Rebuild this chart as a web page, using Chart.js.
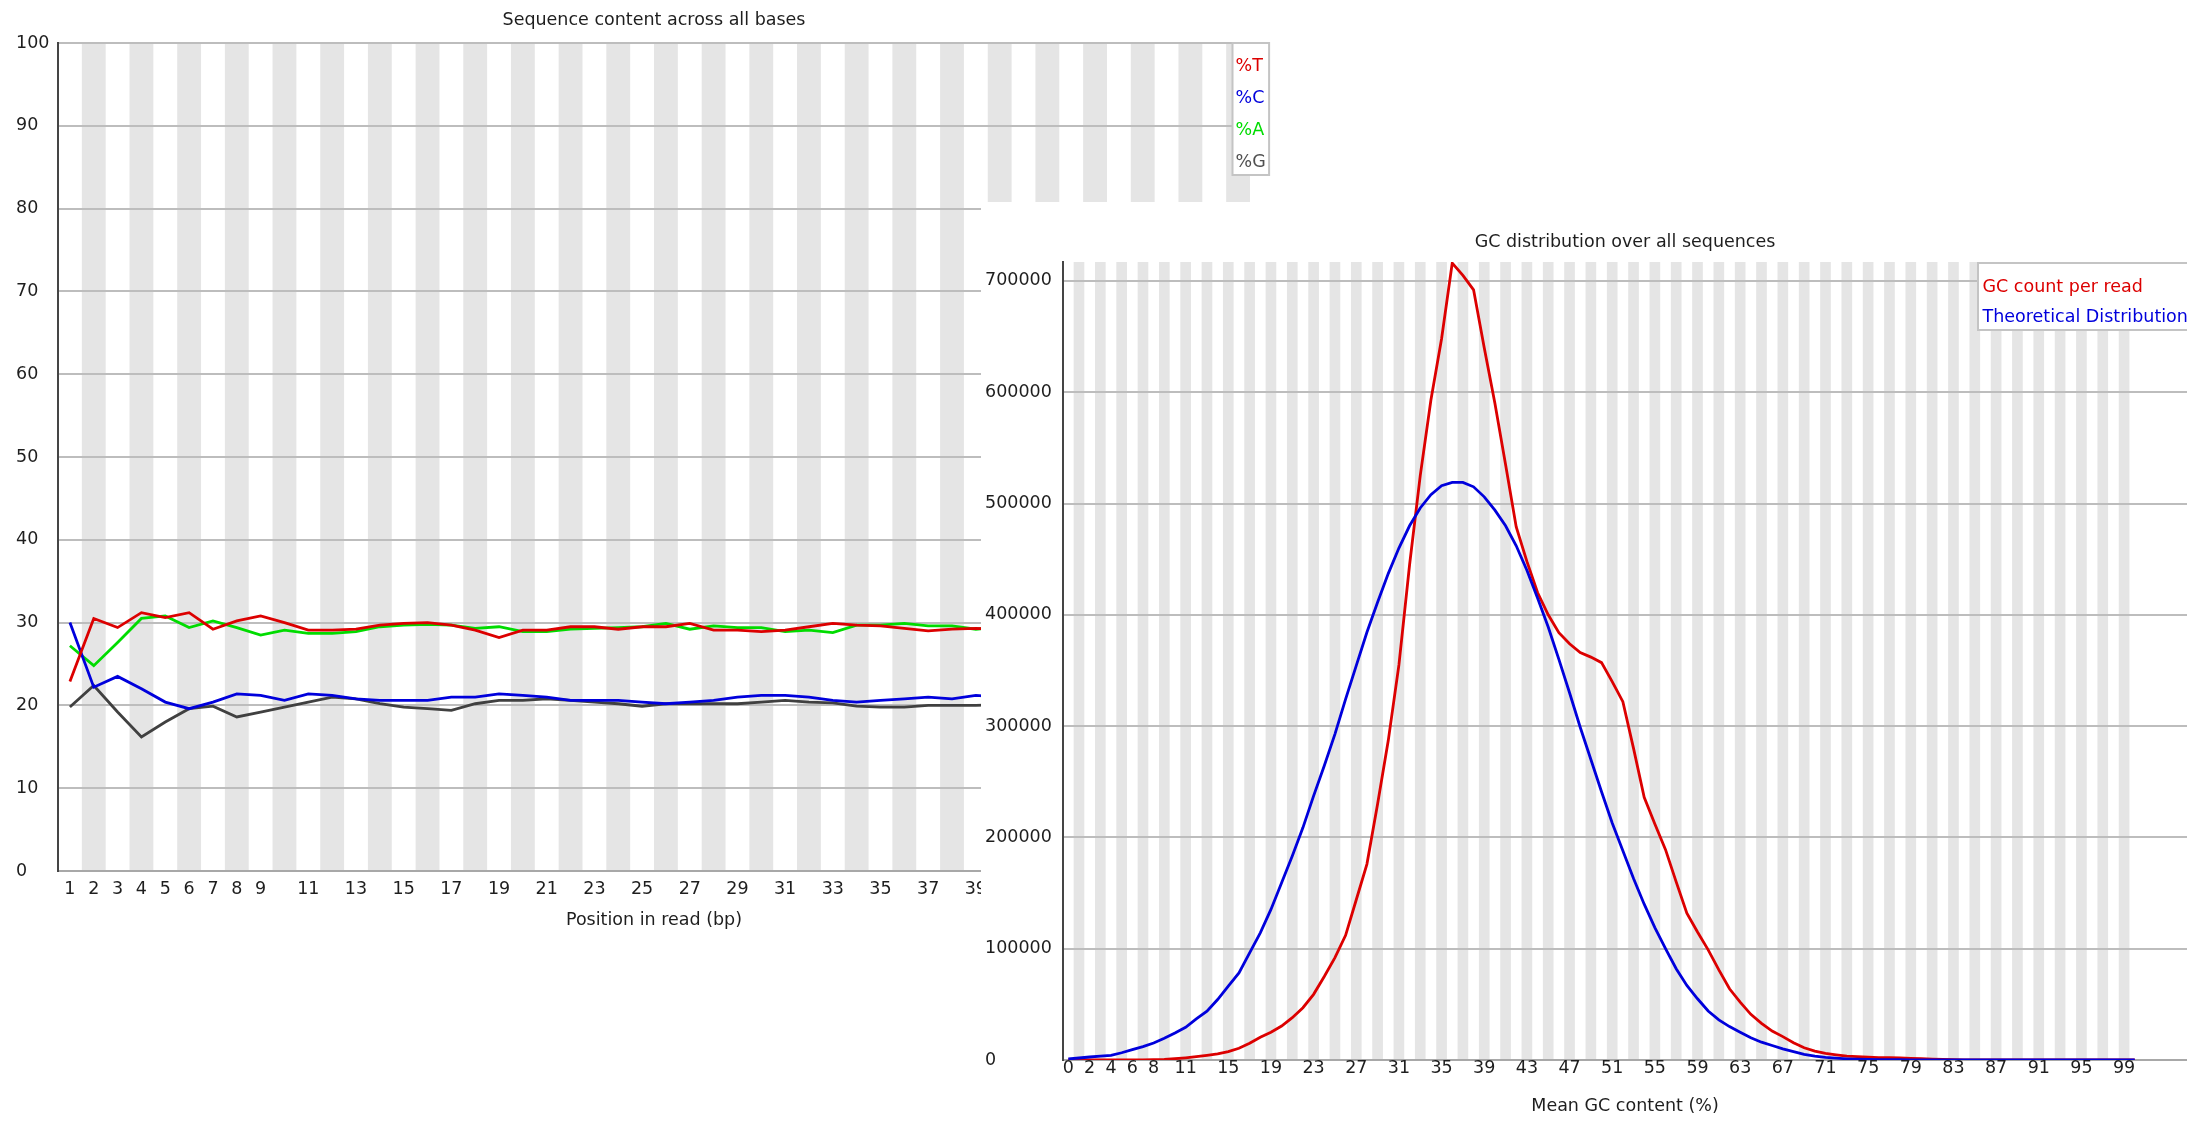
<!DOCTYPE html>
<html><head><meta charset="utf-8">
<script src="https://cdn.jsdelivr.net/npm/chart.js@4.4.1/dist/chart.umd.min.js"></script>
<style>
html,body{margin:0;padding:0;background:#fff;overflow:hidden;width:2187px;height:1121px;}
#c1{position:absolute;left:0;top:0;}
#c2{position:absolute;left:981px;top:202px;}
</style></head><body>
<canvas id="c1" width="1280" height="941"></canvas>
<canvas id="c2" width="1206" height="919"></canvas>
<script>
// ---------- Sequence content across all bases ----------
const seqTitle = 'Sequence content across all bases';
const seqXTitle = 'Position in read (bp)';
const positions = [1,2,3,4,5,6,7,8,9,10,11,12,13,14,15,16,17,18,19,20,21,22,23,24,25,26,27,28,29,30,31,32,33,34,35,36,37,38,39,40,41,42,43,44,45,46,47,48,49,50];
const seriesNames = ['%T','%C','%A','%G'];
const pctT = [22.9,30.5,29.4,31.2,30.6,31.2,29.2,30.2,30.8,30.0,29.1,29.1,29.2,29.7,29.9,30.0,29.7,29.1,28.2,29.1,29.1,29.5,29.5,29.2,29.5,29.5,29.9,29.1,29.1,28.9,29.1,29.5,29.9,29.7,29.6,29.3,29.0,29.2,29.3,29.2,29.4,29.1,29.3,29.5,29.2,29.0,29.3,29.4,29.1,29.2];
const pctC = [30.0,22.2,23.5,22.0,20.4,19.6,20.4,21.4,21.2,20.6,21.4,21.2,20.8,20.6,20.6,20.6,21.0,21.0,21.4,21.2,21.0,20.6,20.6,20.6,20.4,20.2,20.4,20.6,21.0,21.2,21.2,21.0,20.6,20.4,20.6,20.8,21.0,20.8,21.2,21.0,20.8,20.9,21.1,20.8,20.7,20.9,21.0,20.8,20.9,21.0];
const pctA = [27.2,24.8,27.6,30.5,30.8,29.4,30.2,29.4,28.5,29.1,28.7,28.7,28.9,29.5,29.7,29.8,29.7,29.3,29.5,28.9,28.9,29.2,29.3,29.4,29.5,29.9,29.2,29.6,29.4,29.4,28.9,29.1,28.8,29.7,29.7,29.9,29.6,29.6,29.2,29.5,29.3,29.6,29.4,29.2,29.5,29.6,29.3,29.4,29.5,29.3];
const pctG = [19.8,22.4,19.2,16.2,18.0,19.6,19.9,18.6,19.2,19.8,20.4,21.0,20.8,20.2,19.8,19.6,19.4,20.2,20.6,20.6,20.8,20.6,20.4,20.2,19.9,20.2,20.2,20.2,20.2,20.4,20.6,20.4,20.3,19.9,19.8,19.8,20.0,20.0,20.0,20.1,20.3,20.0,20.2,20.4,20.1,20.0,20.2,20.3,20.1,20.0];
const seqYTicks = [0,10,20,30,40,50,60,70,80,90,100];

// ---------- GC distribution over all sequences ----------
const gcTitle = 'GC distribution over all sequences';
const gcXTitle = 'Mean GC content (%)';
const gcNames = ['GC count per read','Theoretical Distribution'];
const gcBins = [0,1,2,3,4,5,6,7,8,9,10,11,12,13,14,15,16,17,18,19,20,21,22,23,24,25,26,27,28,29,30,31,32,33,34,35,36,37,38,39,40,41,42,43,44,45,46,47,48,49,50,51,52,53,54,55,56,57,58,59,60,61,62,63,64,65,66,67,68,69,70,71,72,73,74,75,76,77,78,79,80,81,82,83,84,85,86,87,88,89,90,91,92,93,94,95,96,97,98,99,100];
const gcCount = [300,200,150,100,100,100,100,150,300,600,1200,2000,3000,4200,5500,7500,10500,15000,20500,25000,30500,38000,47000,59000,75000,92000,112000,144000,176000,230000,287000,355000,445000,525000,593000,648000,716000,705000,692000,640000,590000,535000,479000,448000,420000,400000,384000,374000,366000,362000,357000,340000,322000,280000,236000,212000,189000,160000,132000,115000,99000,81000,64000,52000,41000,33000,26000,21000,15500,11000,8000,6000,4700,3500,3000,2600,2200,2000,1800,1500,1200,800,500,300,200,100,100,0,0,0,0,0,0,0,0,0,0,0,0,0,0];
const gcTheory = [900,1800,2700,3400,4200,6500,9300,12000,15300,19500,24300,29400,36900,43800,54300,66300,78300,96300,114300,135300,159300,183300,208800,237300,264300,292800,324300,354300,384300,411300,437000,460000,480000,496000,508000,516000,519000,519000,515000,506000,494000,480000,462000,440000,415000,389000,360000,330000,299000,270000,241000,213000,188000,163000,140000,119000,100000,82000,67000,55000,44000,36000,30000,25000,20000,16000,13000,10000,7500,5000,3500,2300,1600,1100,800,500,400,300,300,200,200,200,200,200,200,200,200,200,200,200,200,200,200,200,200,200,200,200,200,200,200];
const gcXTicks = [0,2,4,6,8,11,15,19,23,27,31,35,39,43,47,51,55,59,63,67,71,75,79,83,87,91,95,99];
const gcYTicks = [0,100000,200000,300000,400000,500000,600000,700000];

const FONT = "'DejaVu Sans', sans-serif";
const FS = 17.5;
const TXT = '#1e1e1e';
const STRIPE = '#e5e5e5';
const GRID = '#bdbdbd';
const AXIS = '#454545';
const RED = 'rgb(220,0,0)', BLUE = 'rgb(0,0,220)', GREEN = 'rgb(0,220,0)', DARK = 'rgb(64,64,64)';
Chart.defaults.font.family = FONT;
Chart.defaults.font.size = FS;
Chart.defaults.color = TXT;

// ---- chart 1 ----
const seqStripes = {
  id: 'seqStripes',
  beforeDraw(chart) {
    const {ctx, chartArea: a, scales: {x}} = chart;
    ctx.save();
    ctx.fillStyle = '#fff';
    ctx.fillRect(0, 0, chart.width, chart.height);
    const w = a.width / positions.length;
    ctx.fillStyle = STRIPE;
    positions.forEach((p, i) => {
      if (i % 2 === 1) {
        const cx = x.getPixelForValue(i);
        ctx.fillRect(cx - w / 2, a.top, w, a.bottom - a.top);
      }
    });
    ctx.restore();
  },
  afterDraw(chart) {
    const {ctx, chartArea: a} = chart;
    const colors = [RED, BLUE, GREEN, DARK];
    const bx = a.right - 17.5, by = a.top, bw = 36.6, bh = 132;
    ctx.save();
    ctx.fillStyle = '#fff';
    ctx.fillRect(bx, by, bw, bh);
    ctx.strokeStyle = '#c4c4c4';
    ctx.lineWidth = 2;
    ctx.strokeRect(bx, by, bw, bh);
    ctx.font = FS + 'px ' + FONT;
    ctx.textBaseline = 'middle';
    ctx.textAlign = 'left';
    seriesNames.forEach((n, i) => {
      ctx.fillStyle = i === 3 ? 'rgb(80,80,80)' : colors[i];
      ctx.fillText(n, bx + 3, by + 23 + i * 32);
    });
    ctx.restore();
  }
};

new Chart(document.getElementById('c1'), {
  type: 'line',
  data: {
    labels: positions,
    datasets: [
      {label: seriesNames[0], data: pctT, borderColor: RED},
      {label: seriesNames[1], data: pctC, borderColor: BLUE},
      {label: seriesNames[2], data: pctA, borderColor: GREEN},
      {label: seriesNames[3], data: pctG, borderColor: DARK}
    ].map(d => Object.assign(d, {borderWidth: 2.8, pointRadius: 0, tension: 0, fill: false}))
  },
  options: {
    responsive: false, maintainAspectRatio: false, animation: false, devicePixelRatio: 1,
    layout: {padding: {left: 16, right: 30, top: 0, bottom: 0}},
    plugins: {
      legend: {display: false}, tooltip: {enabled: false},
      title: {display: true, text: seqTitle, fullSize: false, color: TXT,
        font: {size: FS, weight: 'normal', family: FONT}, padding: {top: 9.5, bottom: 12.5}}
    },
    scales: {
      x: {
        type: 'category', offset: true,
        grid: {display: false, drawTicks: false},
        border: {display: true, color: '#a8a8a8', width: 2},
        ticks: {autoSkip: false, maxRotation: 0, padding: 7.5, color: TXT,
          callback: (v, i) => (positions[i] <= 9 || positions[i] % 2 === 1) ? String(positions[i]) : ''},
        title: {display: true, text: seqXTitle, color: TXT, font: {size: FS}, padding: {top: 0, bottom: 9.8}},
        afterFit: s => { s.height = 70; }
      },
      y: {
        min: 0, max: 100,
        grid: {color: GRID, lineWidth: 2, drawTicks: false},
        border: {display: true, color: AXIS, width: 2},
        ticks: {crossAlign: 'far', padding: 0, color: TXT},
        afterBuildTicks: s => { s.ticks = seqYTicks.map(v => ({value: v})); },
        afterFit: s => { s.width = 42; }
      }
    }
  },
  plugins: [seqStripes]
});

// ---- chart 2 ----
const gcStripes = {
  id: 'gcStripes',
  beforeDraw(chart) {
    const {ctx, chartArea: a, scales: {x}} = chart;
    ctx.save();
    ctx.fillStyle = '#fff';
    ctx.fillRect(0, 0, chart.width, chart.height);
    ctx.fillStyle = STRIPE;
    gcBins.forEach(b => {
      if (b % 2 === 1) {
        const x0 = x.getPixelForValue(b - 0.5), x1 = x.getPixelForValue(b + 0.5);
        ctx.fillRect(x0, a.top, x1 - x0, a.bottom - a.top);
      }
    });
    ctx.restore();
  },
  afterDraw(chart) {
    const {ctx, chartArea: a} = chart;
    const bx = 997, by = a.top + 1, bw = 260, bh = 67;
    ctx.save();
    ctx.fillStyle = '#fff';
    ctx.fillRect(bx, by, bw, bh);
    ctx.strokeStyle = '#c4c4c4';
    ctx.lineWidth = 2;
    ctx.strokeRect(bx, by, bw, bh);
    ctx.font = FS + 'px ' + FONT;
    ctx.textBaseline = 'middle';
    ctx.textAlign = 'left';
    ctx.fillStyle = RED;
    ctx.fillText(gcNames[0], bx + 4.5, by + 24);
    ctx.fillStyle = BLUE;
    ctx.fillText(gcNames[1], bx + 4.5, by + 54);
    ctx.restore();
  }
};

new Chart(document.getElementById('c2'), {
  type: 'line',
  data: {
    datasets: [
      {label: gcNames[0], data: gcBins.map((b, i) => ({x: b, y: gcCount[i]})), borderColor: RED, order: 1},
      {label: gcNames[1], data: gcBins.map((b, i) => ({x: b, y: gcTheory[i]})), borderColor: BLUE, order: 0}
    ].map(d => Object.assign(d, {borderWidth: 2.8, pointRadius: 0, tension: 0, fill: false}))
  },
  options: {
    responsive: false, maintainAspectRatio: false, animation: false, devicePixelRatio: 1,
    layout: {padding: {left: 4, right: 0, top: 0, bottom: 0}},
    plugins: {
      legend: {display: false}, tooltip: {enabled: false},
      title: {display: true, text: gcTitle, fullSize: false, color: TXT,
        font: {size: FS, weight: 'normal', family: FONT}, padding: {top: 29.5, bottom: 9.5}}
    },
    scales: {
      x: {
        type: 'linear', min: -0.5, max: 104.9,
        grid: {display: false, drawTicks: false},
        border: {display: true, color: '#a8a8a8', width: 2},
        ticks: {autoSkip: false, maxRotation: 0, padding: 0, color: TXT, font: {size: FS, lineHeight: 1},
          callback: v => String(v)},
        afterBuildTicks: s => { s.ticks = gcXTicks.map(v => ({value: v})); },
        title: {display: true, text: gcXTitle, color: TXT, font: {size: FS}, padding: {top: 0, bottom: 3.8}},
        afterFit: s => { s.height = 61; }
      },
      y: {
        min: 0, max: 717000,
        grid: {color: GRID, lineWidth: 2, drawTicks: false},
        border: {display: true, color: AXIS, width: 2},
        ticks: {crossAlign: 'far', padding: 0, color: TXT, callback: v => String(v)},
        afterBuildTicks: s => { s.ticks = gcYTicks.map(v => ({value: v})); },
        afterFit: s => { s.width = 78; }
      }
    }
  },
  plugins: [gcStripes]
});
</script>
</body></html>
